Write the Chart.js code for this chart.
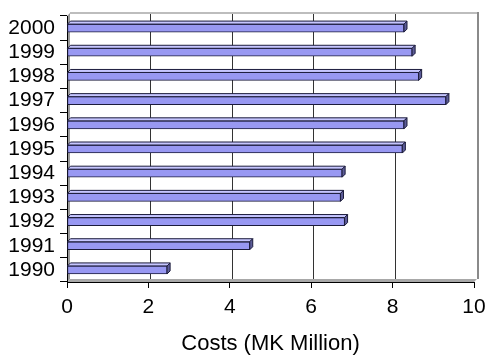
<!DOCTYPE html>
<html>
<head>
<meta charset="utf-8">
<script src="https://cdn.jsdelivr.net/npm/chart.js@4/dist/chart.umd.min.js"></script>
<style>
  html, body { margin: 0; padding: 0; background: #fff; }
  #wrap { width: 485px; height: 356px; }
</style>
</head>
<body>
<div id="wrap"><canvas id="c" width="485" height="356"></canvas></div>
<script>
// Annual costs, 1990-2000 (MK Million)
const years = ['1990', '1991', '1992', '1993', '1994', '1995', '1996', '1997', '1998', '1999', '2000'];
const costs = [2.46, 4.49, 6.82, 6.72, 6.76, 8.24, 8.28, 9.31, 8.64, 8.48, 8.28];
const xTicks = [0, 2, 4, 6, 8, 10];
const xTitle = 'Costs (MK Million)';

const DEPTH = 3;
const FONT = "'Liberation Sans', Arial, Helvetica, sans-serif";

// Back wall, side wall, floor and vertical gridlines of the 3D frame
const frame3d = {
  id: 'frame3d',
  beforeDraw(chart) {
    const { ctx, chartArea: a, scales: { x } } = chart;
    const d = DEPTH;
    ctx.save();
    // left side wall
    ctx.fillStyle = '#9a9a9a';
    ctx.beginPath();
    ctx.moveTo(a.left, a.top);
    ctx.lineTo(a.left + d, a.top - d);
    ctx.lineTo(a.left + d, a.bottom - d);
    ctx.lineTo(a.left, a.bottom);
    ctx.closePath();
    ctx.fill();
    // floor
    ctx.fillStyle = '#a8a8a8';
    ctx.beginPath();
    ctx.moveTo(a.left, a.bottom);
    ctx.lineTo(a.left + d, a.bottom - d);
    ctx.lineTo(a.right + d, a.bottom - d);
    ctx.lineTo(a.right, a.bottom);
    ctx.closePath();
    ctx.fill();
    // gridlines on the back wall
    ctx.strokeStyle = '#333';
    ctx.lineWidth = 1;
    xTicks.slice(1, -1).forEach(v => {
      const px = Math.round(x.getPixelForValue(v)) + 2 + 0.5;
      ctx.beginPath();
      ctx.moveTo(px, a.top - d);
      ctx.lineTo(px, a.bottom - d);
      ctx.stroke();
    });
    // top edge of back wall
    ctx.strokeStyle = '#bdbdbd';
    ctx.lineWidth = 2;
    ctx.beginPath();
    ctx.moveTo(a.left + d, a.top - d);
    ctx.lineTo(a.right + d + 1, a.top - d);
    ctx.stroke();
    // right edge of back wall
    ctx.strokeStyle = '#8a8a8a';
    ctx.lineWidth = 2;
    ctx.beginPath();
    ctx.moveTo(a.right + d + 1, a.top - d - 1);
    ctx.lineTo(a.right + d + 1, a.bottom - d);
    ctx.stroke();
    ctx.restore();
  },
  // top face and end cap of each bar
  afterDatasetsDraw(chart) {
    const { ctx } = chart;
    const d = DEPTH;
    ctx.save();
    ctx.lineWidth = 1;
    ctx.strokeStyle = '#1c1c3c';
    chart.getDatasetMeta(0).data.forEach(bar => {
      const p = bar.getProps(['x', 'y', 'base', 'height'], true);
      const top = p.y - p.height / 2;
      const bot = p.y + p.height / 2;
      // top face
      ctx.fillStyle = '#c6c6ff';
      ctx.beginPath();
      ctx.moveTo(p.base, top);
      ctx.lineTo(p.base + d, top - d);
      ctx.lineTo(p.x + d, top - d);
      ctx.lineTo(p.x, top);
      ctx.closePath();
      ctx.fill();
      ctx.stroke();
      // end cap
      ctx.fillStyle = '#5c5c98';
      ctx.beginPath();
      ctx.moveTo(p.x, top);
      ctx.lineTo(p.x + d, top - d);
      ctx.lineTo(p.x + d, bot - d);
      ctx.lineTo(p.x, bot);
      ctx.closePath();
      ctx.fill();
      ctx.stroke();
    });
    ctx.restore();
  }
};

Chart.defaults.font.family = FONT;
Chart.defaults.color = '#000';

new Chart(document.getElementById('c'), {
  type: 'bar',
  data: {
    labels: years,
    datasets: [{
      data: costs,
      backgroundColor: '#9898f2',
      borderColor: '#1c1c3c',
      borderWidth: 1,
      borderSkipped: false,
      barThickness: 8
    }]
  },
  options: {
    indexAxis: 'y',
    responsive: false,
    animation: false,
    layout: { padding: { top: 16, right: 11, left: 0, bottom: 0 } },
    plugins: { legend: { display: false }, tooltip: { enabled: false } },
    scales: {
      x: {
        min: 0,
        max: 10,
        afterBuildTicks: s => { s.ticks = xTicks.map(v => ({ value: v })); },
        ticks: { font: { size: 21 }, color: '#000', padding: 7, maxRotation: 0 },
        grid: { drawOnChartArea: false, drawTicks: true, tickLength: 6, color: '#000' },
        border: { display: true, color: '#000', width: 1 },
        title: {
          display: true,
          text: xTitle,
          font: { size: 22, lineHeight: 1 },
          color: '#000',
          padding: { top: 0, bottom: 1 }
        },
        afterFit: s => { s.height = 74; s.paddingLeft = 0; s.paddingRight = 0; }
      },
      y: {
        reverse: true,
        ticks: { font: { size: 21 }, color: '#000', padding: 5, autoSkip: false },
        grid: { drawOnChartArea: false, drawTicks: true, tickLength: 7, color: '#000', offset: true },
        border: { display: true, color: '#000', width: 1 },
        afterFit: s => { s.width = 67; s.paddingTop = 0; s.paddingBottom = 0; }
      }
    }
  },
  plugins: [frame3d]
});
</script>
</body>
</html>
